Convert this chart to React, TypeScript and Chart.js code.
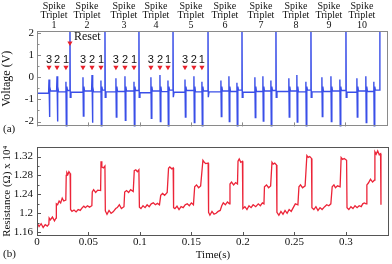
import React, { useEffect, useRef } from "react";
import { Chart, registerables } from "chart.js";
Chart.register(...registerables);

// ---------- data ----------
const xTickValues = [0, 0.05, 0.1, 0.15, 0.2, 0.25, 0.3];
const xTickLabels = ["0", "0.05", "0.1", "0.15", "0.2", "0.25", "0.3"];
const voltTickValues = [-2, -1, 0, 1, 2];
const voltTickLabels = ["-2", "-1", "0", "1", "2"];
const resTickValues = [1.16, 1.2, 1.24, 1.28, 1.32];
const resTickLabels = ["1.16", "1.2", "1.24", "1.28", "1.32"];

const tripletNames = ["1", "2", "3", "4", "5", "6", "7", "8", "9", "10"];
const tripletCenters = [0.0166, 0.0487, 0.0847, 0.1159, 0.15, 0.1831, 0.2182, 0.2523, 0.2844, 0.3166];

const resetTimes = [0.0321, 0.0662, 0.0993, 0.1325, 0.1666, 0.1997, 0.2328, 0.2669, 0.301, 0.3341];
const spikeTimes = [
  0.0117, 0.0195, 0.0282,
  0.0448, 0.0536, 0.0623,
  0.0769, 0.0857, 0.0945,
  0.111, 0.1198, 0.1276,
  0.1442, 0.1529, 0.1607,
  0.1792, 0.187, 0.1948,
  0.2123, 0.2201, 0.2279,
  0.2454, 0.2532, 0.262,
  0.2776, 0.2864, 0.2951,
  0.3117, 0.3204, 0.3282,
];
const spikePeaks = [
  -0.1, 0.05, -0.2,
  0.0, 0.1, -0.15,
  -0.05, 0.05, -0.2,
  0.0, 0.1, -0.15,
  -0.1, 0.05, -0.2,
  -0.15, 0.05, -0.25,
  0.0, 0.05, -0.15,
  -0.05, 0.1, -0.2,
  0.0, 0.05, -0.1,
  -0.05, 0.05, -0.2,
];
const spikeTroughs = [
  -1.8, -2.0, -2.4,
  -1.75, -2.05, -2.4,
  -1.8, -1.95, -2.4,
  -1.85, -2.0, -2.4,
  -1.8, -2.05, -2.4,
  -1.78, -2.0, -2.4,
  -1.82, -1.98, -2.4,
  -1.8, -2.02, -2.4,
  -1.78, -2.0, -2.4,
  -1.8, -2.05, -2.4,
];
const baseLevels = [
  -0.72, -0.62, -0.66, -0.6,
  -0.68, -0.62, -0.66, -0.58,
  -0.66, -0.64, -0.62, -0.6,
  -0.7, -0.62, -0.65, -0.58,
  -0.68, -0.6, -0.66, -0.62,
  -0.66, -0.62, -0.64, -0.58,
  -0.68, -0.64, -0.62, -0.6,
  -0.64, -0.62, -0.66, -0.58,
  -0.66, -0.64, -0.62, -0.6,
  -0.68, -0.62, -0.64, -0.58,
];
const spikeRebound = -0.42;
const resetPeak = 3;
const resetDip = -0.9;

const spikeOrderLabels = ["3", "2", "1"];
const labelledTriplets = 5;
const orderLabelVolt = 0.78;
const markerVolt = 0.45;
const resetMarkerVolt = 1.55;
const resetLabelVolt = 1.82;
const resetLabel = "Reset";

const resTimes = [
  0, 0.002, 0.004, 0.006, 0.008, 0.01, 0.0115, 0.0118, 0.013, 0.015, 0.017, 0.0185, 0.0188, 0.02, 0.0215, 0.023, 0.0245, 0.026, 0.028, 0.0284, 0.029, 0.03, 0.031, 0.0322,
  0.0326, 0.034, 0.036, 0.038, 0.04, 0.042, 0.044, 0.0455, 0.047, 0.049, 0.051, 0.0533, 0.0537, 0.055, 0.057, 0.059, 0.0618, 0.0622, 0.063, 0.0645, 0.066,
  0.0664, 0.068, 0.07, 0.072, 0.074, 0.0765, 0.078, 0.08, 0.082, 0.0845, 0.0852, 0.087, 0.089, 0.091, 0.0935, 0.0945, 0.096, 0.0975, 0.099,
  0.0995, 0.101, 0.103, 0.105, 0.107, 0.109, 0.111, 0.113, 0.115, 0.117, 0.119, 0.1202, 0.122, 0.124, 0.1265, 0.1278, 0.129, 0.131, 0.1323,
  0.1327, 0.134, 0.136, 0.138, 0.14, 0.142, 0.144, 0.146, 0.148, 0.15, 0.152, 0.1532, 0.155, 0.157, 0.159, 0.1612, 0.1625, 0.164, 0.1663,
  0.1667, 0.168, 0.17, 0.172, 0.174, 0.176, 0.178, 0.1795, 0.181, 0.183, 0.185, 0.187, 0.1875, 0.189, 0.191, 0.193, 0.1948, 0.1953, 0.1965, 0.198, 0.1996,
  0.2, 0.202, 0.204, 0.206, 0.208, 0.21, 0.2125, 0.215, 0.217, 0.219, 0.2205, 0.221, 0.223, 0.225, 0.227, 0.2283, 0.2295, 0.231, 0.2327,
  0.2331, 0.235, 0.237, 0.239, 0.241, 0.243, 0.245, 0.247, 0.2495, 0.251, 0.2535, 0.2545, 0.256, 0.258, 0.2605, 0.2622, 0.2635, 0.265, 0.2667,
  0.2671, 0.269, 0.271, 0.273, 0.275, 0.277, 0.2795, 0.2815, 0.2835, 0.2855, 0.2868, 0.2885, 0.29, 0.292, 0.2945, 0.2955, 0.297, 0.2985, 0.3008,
  0.3012, 0.303, 0.305, 0.307, 0.309, 0.311, 0.313, 0.315, 0.3165, 0.318, 0.3198, 0.3205, 0.322, 0.324, 0.326, 0.3278, 0.3283, 0.3295, 0.331, 0.3325, 0.3338, 0.3342,
];
const resValues = [
  1.18, 1.172, 1.178, 1.17, 1.176, 1.173, 1.177, 1.19, 1.186, 1.192, 1.184, 1.19, 1.22, 1.218, 1.226, 1.222, 1.232, 1.226, 1.228, 1.28, 1.286, 1.282, 1.288, 1.284,
  1.208, 1.204, 1.207, 1.203, 1.208, 1.206, 1.212, 1.215, 1.212, 1.216, 1.213, 1.216, 1.245, 1.25, 1.244, 1.249, 1.248, 1.31, 1.298, 1.296, 1.3,
  1.205, 1.198, 1.206, 1.2, 1.203, 1.21, 1.212, 1.218, 1.21, 1.214, 1.245, 1.248, 1.244, 1.25, 1.246, 1.29, 1.292, 1.288, 1.292,
  1.213, 1.21, 1.216, 1.212, 1.218, 1.214, 1.22, 1.222, 1.218, 1.221, 1.218, 1.238, 1.242, 1.238, 1.244, 1.295, 1.298, 1.294, 1.296,
  1.212, 1.21, 1.215, 1.208, 1.214, 1.212, 1.218, 1.22, 1.216, 1.222, 1.218, 1.256, 1.26, 1.254, 1.258, 1.312, 1.308, 1.305, 1.306,
  1.202, 1.196, 1.204, 1.198, 1.2, 1.204, 1.206, 1.216, 1.222, 1.218, 1.224, 1.22, 1.262, 1.266, 1.26, 1.265, 1.262, 1.31, 1.315, 1.308, 1.31,
  1.21, 1.214, 1.208, 1.216, 1.212, 1.218, 1.214, 1.22, 1.216, 1.222, 1.22, 1.256, 1.26, 1.254, 1.258, 1.308, 1.304, 1.306, 1.302,
  1.202, 1.196, 1.204, 1.198, 1.206, 1.2, 1.208, 1.204, 1.214, 1.22, 1.218, 1.256, 1.26, 1.254, 1.258, 1.322, 1.318, 1.32, 1.316,
  1.212, 1.208, 1.214, 1.206, 1.212, 1.208, 1.214, 1.218, 1.216, 1.22, 1.256, 1.26, 1.254, 1.258, 1.256, 1.318, 1.314, 1.316, 1.312,
  1.212, 1.208, 1.214, 1.21, 1.216, 1.212, 1.216, 1.214, 1.22, 1.222, 1.22, 1.26, 1.264, 1.272, 1.266, 1.27, 1.33, 1.325, 1.332, 1.324, 1.326, 1.218,
];

// ---------- styling ----------
const SERIF = '"Liberation Serif", "Times New Roman", serif';
const SANS = '"Liberation Sans", Arial, sans-serif';
const BLUE = "#3a4fe8";
const RED = "#ec2438";
const MARK_RED = "#e8202a";
const X_MIN = 0;
const X_MAX = 0.342;

function buildVoltage() {
  const pts: { x: number; y: number }[] = [{ x: 0, y: baseLevels[0] }];
  let k = 0;
  for (let p = 0; p < resetTimes.length; p++) {
    for (let j = 0; j < 3; j++) {
      const i = p * 3 + j;
      const t = spikeTimes[i];
      pts.push(
        { x: t - 0.0004, y: baseLevels[k] },
        { x: t, y: spikePeaks[i] },
        { x: t + 0.0004, y: spikeTroughs[i] },
        { x: t + 0.0009, y: spikeRebound },
        { x: t + 0.0015, y: baseLevels[k + 1] }
      );
      k++;
    }
    const r = resetTimes[p];
    pts.push({ x: r - 0.0003, y: baseLevels[k] }, { x: r, y: resetPeak });
    if (p < resetTimes.length - 1) {
      pts.push({ x: r + 0.0003, y: resetDip }, { x: r + 0.001, y: baseLevels[k + 1] });
    }
    k++;
  }
  return pts;
}

function buildMarkers() {
  const m: { x: number; y: number }[] = [];
  for (let i = 0; i < labelledTriplets * 3; i++) m.push({ x: spikeTimes[i], y: markerVolt });
  m.push({ x: resetTimes[0], y: resetMarkerVolt });
  return m;
}

function framePlugin(id: string, color: string) {
  return {
    id,
    afterDatasetsDraw(chart: any) {
      const { ctx, chartArea: a, scales } = chart;
      ctx.save();
      ctx.strokeStyle = color;
      ctx.lineWidth = 1;
      ctx.strokeRect(Math.round(a.left) + 0.5, Math.round(a.top) + 0.5, Math.round(a.right - a.left) - 1, Math.round(a.bottom - a.top) - 1);
      const xs = scales.x;
      ctx.beginPath();
      xs.ticks.forEach((t: any) => {
        const px = Math.round(xs.getPixelForValue(t.value)) + 0.5;
        ctx.moveTo(px, a.bottom);
        ctx.lineTo(px, a.bottom - 4);
      });
      const ys = scales.y;
      const vals = ys.ticks.map((t: any) => t.value);
      vals.forEach((v: number) => {
        const py = Math.round(ys.getPixelForValue(v)) + 0.5;
        ctx.moveTo(a.left, py);
        ctx.lineTo(a.left + 4, py);
      });
      for (let i = 0; i < vals.length - 1; i++) {
        const py = Math.round(ys.getPixelForValue((vals[i] + vals[i + 1]) / 2)) + 0.5;
        ctx.moveTo(a.left, py);
        ctx.lineTo(a.left + 2.5, py);
      }
      ctx.stroke();
      ctx.restore();
    },
  };
}

const topTextPlugin = {
  id: "topText",
  afterDraw(chart: any) {
    const { ctx, scales } = chart;
    const xs = scales.x;
    const ys = scales.y;
    ctx.save();
    ctx.fillStyle = "#111";
    ctx.textAlign = "center";
    ctx.textBaseline = "middle";
    ctx.font = `11px ${SANS}`;
    for (let i = 0; i < labelledTriplets * 3; i++) {
      ctx.fillText(spikeOrderLabels[i % 3], xs.getPixelForValue(spikeTimes[i]), ys.getPixelForValue(orderLabelVolt));
    }
    ctx.font = `12px ${SERIF}`;
    ctx.textAlign = "left";
    ctx.fillText(resetLabel, xs.getPixelForValue(resetTimes[0]) + 4, ys.getPixelForValue(resetLabelVolt));
    ctx.font = `11px ${SERIF}`;
    ctx.fillText("(a)", 3, 129);
    ctx.restore();
  },
};

const bottomTextPlugin = {
  id: "bottomText",
  afterDraw(chart: any) {
    const { ctx } = chart;
    ctx.save();
    ctx.fillStyle = "#111";
    ctx.textAlign = "left";
    ctx.textBaseline = "middle";
    ctx.font = `11px ${SERIF}`;
    ctx.fillText("(b)", 3, 118);
    ctx.restore();
  },
};

export default function App() {
  const topRef = useRef<HTMLCanvasElement>(null);
  const botRef = useRef<HTMLCanvasElement>(null);

  useEffect(() => {
    const voltPts = buildVoltage();
    const markers = buildMarkers();
    const resPts = resTimes.map((t, i) => ({ x: t, y: resValues[i] }));

    const c1 = new Chart(topRef.current as HTMLCanvasElement, {
      type: "line",
      data: {
        datasets: [
          {
            data: markers,
            showLine: false,
            pointStyle: "triangle",
            rotation: 180,
            pointRadius: 3,
            pointBackgroundColor: MARK_RED,
            pointBorderWidth: 0,
            borderColor: MARK_RED,
            order: 0,
          } as any,
          {
            data: voltPts,
            borderColor: BLUE,
            borderWidth: 1.4,
            pointRadius: 0,
            tension: 0,
            order: 1,
          },
        ],
      },
      options: {
        responsive: false,
        animation: false,
        devicePixelRatio: 1,
        layout: { padding: { left: 0, right: 3, top: 0, bottom: 0 } },
        plugins: { legend: { display: false }, tooltip: { enabled: false } },
        scales: {
          x: {
            type: "linear",
            position: "bottom",
            min: X_MIN,
            max: X_MAX,
            grid: { display: false },
            border: { display: false },
            ticks: { display: false },
            afterBuildTicks: (s: any) => {
              s.ticks = xTickValues.map((v) => ({ value: v }));
            },
            afterFit: (s: any) => {
              s.height = 8;
            },
          },
          x2: {
            type: "linear",
            position: "top",
            min: X_MIN,
            max: X_MAX,
            grid: { display: false, drawTicks: false },
            border: { display: false },
            ticks: {
              autoSkip: false,
              maxRotation: 0,
              minRotation: 0,
              padding: 1,
              color: "#111",
              font: { family: SERIF, size: 10, lineHeight: 0.95 },
              callback: (_v: any, i: number) => ["Spike", "Triplet", tripletNames[i]],
            },
            afterBuildTicks: (s: any) => {
              s.ticks = tripletCenters.map((v) => ({ value: v }));
            },
            afterFit: (s: any) => {
              s.height = 31;
            },
          },
          y: {
            type: "linear",
            min: -2.22,
            max: 2.09,
            grid: { display: false, drawTicks: false },
            border: { display: false },
            ticks: {
              padding: 3,
              color: "#111",
              font: { family: SERIF, size: 11 },
              callback: (_v: any, i: number) => voltTickLabels[i],
            },
            afterBuildTicks: (s: any) => {
              s.ticks = voltTickValues.map((v) => ({ value: v }));
            },
            title: {
              display: true,
              text: "Voltage (V)",
              color: "#111",
              font: { family: SERIF, size: 12 },
              padding: { top: 0, bottom: 0 },
            },
            afterFit: (s: any) => {
              s.width = 37;
            },
          },
        },
      } as any,
      plugins: [framePlugin("frameTop", "#8a8a8a"), topTextPlugin],
    });

    const c2 = new Chart(botRef.current as HTMLCanvasElement, {
      type: "line",
      data: {
        datasets: [
          {
            data: resPts,
            borderColor: RED,
            borderWidth: 1.3,
            pointRadius: 0,
            tension: 0,
          },
        ],
      },
      options: {
        responsive: false,
        animation: false,
        devicePixelRatio: 1,
        layout: { padding: { left: 0, right: 3, top: 2, bottom: 0 } },
        plugins: { legend: { display: false }, tooltip: { enabled: false } },
        scales: {
          x: {
            type: "linear",
            position: "bottom",
            min: X_MIN,
            max: X_MAX,
            grid: { display: false, drawTicks: false },
            border: { display: false },
            ticks: {
              autoSkip: false,
              maxRotation: 0,
              padding: 0,
              color: "#111",
              font: { family: SERIF, size: 11 },
              callback: (_v: any, i: number) => xTickLabels[i],
            },
            afterBuildTicks: (s: any) => {
              s.ticks = xTickValues.map((v) => ({ value: v }));
            },
            title: {
              display: true,
              text: "Time(s)",
              color: "#111",
              font: { family: SERIF, size: 11 },
              padding: { top: 0, bottom: 2 },
            },
            afterFit: (s: any) => {
              s.height = 28;
            },
          },
          y: {
            type: "linear",
            min: 1.152,
            max: 1.341,
            grid: { display: false, drawTicks: false },
            border: { display: false },
            ticks: {
              padding: 4,
              color: "#111",
              font: { family: SERIF, size: 11 },
              callback: (_v: any, i: number) => resTickLabels[i],
            },
            afterBuildTicks: (s: any) => {
              s.ticks = resTickValues.map((v) => ({ value: v }));
            },
            title: {
              display: true,
              text: "Resistance (Ω) x 10⁴",
              color: "#111",
              font: { family: SERIF, size: 11 },
              padding: { top: 1, bottom: 0 },
            },
            afterFit: (s: any) => {
              s.width = 37;
            },
          },
        },
      } as any,
      plugins: [framePlugin("frameBottom", "#555"), bottomTextPlugin],
    });

    return () => {
      c1.destroy();
      c2.destroy();
    };
  }, []);

  return (
    <div style={{ position: "fixed", left: 0, top: 0, width: 392, height: 264, background: "#fff" }}>
      <canvas ref={topRef} width={392} height={136} style={{ position: "absolute", left: 0, top: 0 }} />
      <canvas ref={botRef} width={392} height={128} style={{ position: "absolute", left: 0, top: 136 }} />
    </div>
  );
}
